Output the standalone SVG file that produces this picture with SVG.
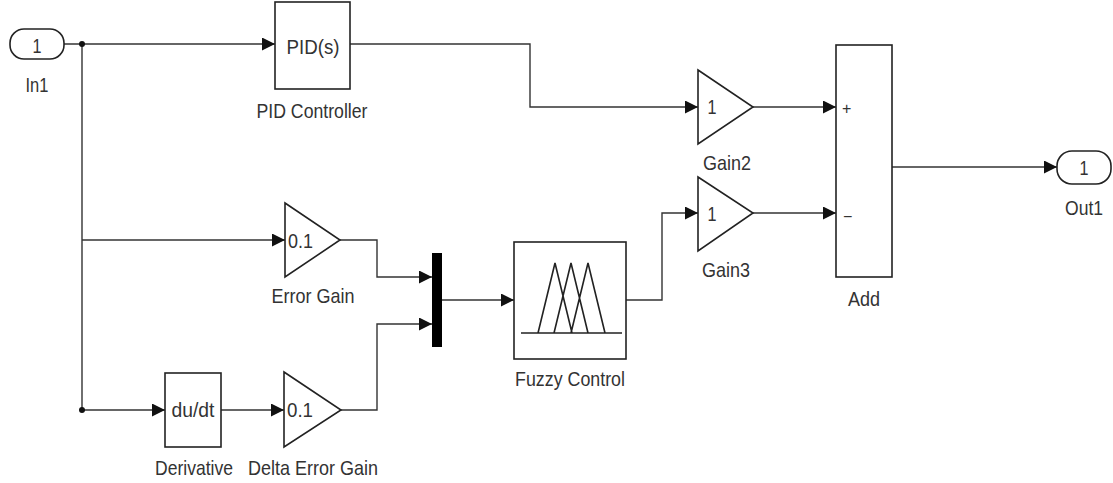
<svg xmlns="http://www.w3.org/2000/svg" width="1113" height="483" viewBox="0 0 1113 483">
<defs>
<marker id="arr" markerUnits="userSpaceOnUse" markerWidth="14" markerHeight="14" refX="13" refY="6.5" orient="auto">
<path d="M0,0 L13,6.5 L0,13 z" fill="#111"/>
</marker>
<style>
.blk{fill:#fff;stroke:#222;stroke-width:1.6}
.ln{fill:none;stroke:#333;stroke-width:1.4}
.wire{fill:none;stroke:#333;stroke-width:1.4;marker-end:url(#arr)}
text{font-family:"Liberation Sans",Arial,sans-serif;font-size:21px;fill:#333}
.c{text-anchor:middle}
</style>
</defs>
<rect width="1113" height="483" fill="#fff"/>

<g id="connectors">
<path class="wire" d="M64,44 H275"/>
<path class="ln" d="M82,44 V410"/>
<path class="wire" d="M82,240 H285"/>
<path class="wire" d="M82,410 H165"/>
<circle cx="82" cy="44" r="3" fill="#111"/>
<circle cx="82" cy="410" r="3" fill="#111"/>
<path class="wire" d="M350,44 H530 V107 H698"/>
<path class="wire" d="M753,107 H836"/>
<path class="wire" d="M340,240 H377 V277 H432"/>
<path class="wire" d="M221,410 H284"/>
<path class="wire" d="M341,410 H377 V324 H432"/>
<path class="wire" d="M442,300 H514"/>
<path class="wire" d="M626,300 H662 V213 H698"/>
<path class="wire" d="M753,213 H836"/>
<path class="wire" d="M892,167 H1057"/>
</g>

<g id="In1">
<rect class="blk" x="10" y="29" width="54" height="30" rx="14" ry="14"/>
<text class="c" x="37" y="53" textLength="9" lengthAdjust="spacingAndGlyphs">1</text>
<text class="c" x="37" y="92" textLength="23" lengthAdjust="spacingAndGlyphs">In1</text>
</g>

<g id="PIDController">
<rect class="blk" x="275" y="2" width="75" height="87"/>
<text class="c" x="313" y="54" textLength="53" lengthAdjust="spacingAndGlyphs">PID(s)</text>
<text class="c" x="312" y="118" textLength="111" lengthAdjust="spacingAndGlyphs">PID Controller</text>
</g>

<g id="Gain2">
<polygon class="blk" points="698,70 753,107 698,144"/>
<text class="c" x="712" y="114" textLength="9" lengthAdjust="spacingAndGlyphs">1</text>
<text class="c" x="727" y="170" textLength="48" lengthAdjust="spacingAndGlyphs">Gain2</text>
</g>

<g id="Gain3">
<polygon class="blk" points="698,177 753,213 698,251"/>
<text class="c" x="712" y="221" textLength="9" lengthAdjust="spacingAndGlyphs">1</text>
<text class="c" x="726" y="277" textLength="48" lengthAdjust="spacingAndGlyphs">Gain3</text>
</g>

<g id="Add">
<rect class="blk" x="836" y="45" width="56" height="232"/>
<text x="842" y="114" style="font-size:16px">+</text>
<text x="843" y="222" style="font-size:16px">−</text>
<text class="c" x="864" y="306" textLength="32" lengthAdjust="spacingAndGlyphs">Add</text>
</g>

<g id="Out1">
<rect class="blk" x="1057" y="151" width="54" height="33" rx="15" ry="15"/>
<text class="c" x="1084" y="175" textLength="9" lengthAdjust="spacingAndGlyphs">1</text>
<text class="c" x="1084" y="215" textLength="38" lengthAdjust="spacingAndGlyphs">Out1</text>
</g>

<g id="ErrorGain">
<polygon class="blk" points="285,203 340,240 285,277"/>
<text x="288" y="248" textLength="25" lengthAdjust="spacingAndGlyphs">0.1</text>
<text class="c" x="313" y="303" textLength="83" lengthAdjust="spacingAndGlyphs">Error Gain</text>
</g>

<g id="Derivative">
<rect class="blk" x="165" y="373" width="56" height="74"/>
<text class="c" x="193" y="417" textLength="43" lengthAdjust="spacingAndGlyphs">du/dt</text>
<text class="c" x="194" y="475" textLength="78" lengthAdjust="spacingAndGlyphs">Derivative</text>
</g>

<g id="DeltaErrorGain">
<polygon class="blk" points="284,372 341,410 284,447"/>
<text x="287" y="417" textLength="26" lengthAdjust="spacingAndGlyphs">0.1</text>
<text class="c" x="313" y="475" textLength="130" lengthAdjust="spacingAndGlyphs">Delta Error Gain</text>
</g>

<g id="Mux">
<rect x="432" y="253" width="10" height="94" fill="#000"/>
</g>

<g id="FuzzyControl">
<rect class="blk" x="514" y="242" width="112" height="117"/>
<path d="M521,333 H622 M538,333 L555,263 L572,333 M554,333 L571,263 L588,333 M571,333 L588,263 L605,333" fill="none" stroke="#222" stroke-width="1.6"/>
<text class="c" x="570" y="386" textLength="110" lengthAdjust="spacingAndGlyphs">Fuzzy Control</text>
</g>
</svg>
